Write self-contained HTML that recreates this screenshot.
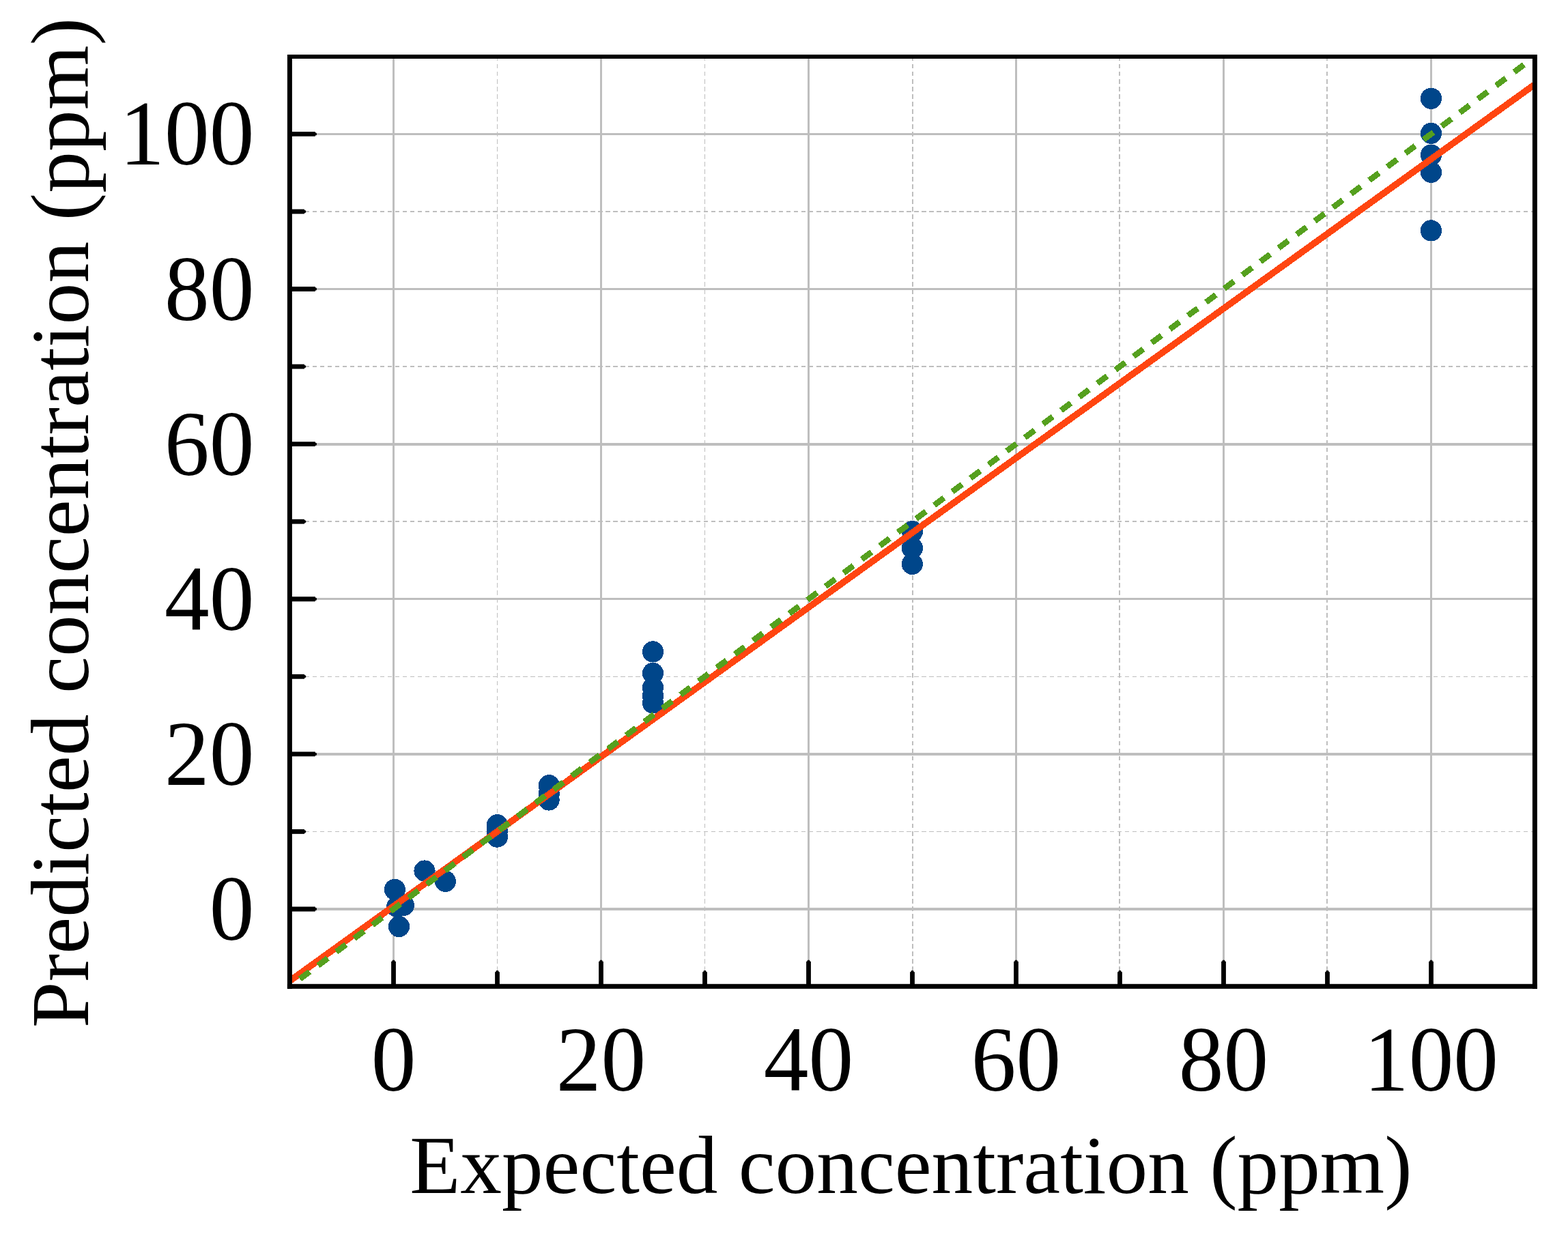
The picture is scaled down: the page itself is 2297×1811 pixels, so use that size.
<!DOCTYPE html>
<html><head><meta charset="utf-8"><title>Calibration plot</title>
<style>html,body{margin:0;padding:0;background:#fff;overflow:hidden}svg{display:block}.t{font-family:"Liberation Serif",serif}</style>
</head><body>
<svg width="2297" height="1811" viewBox="0 0 2297 1811">
<rect x="0" y="0" width="2297" height="1811" fill="#ffffff"/>
<g stroke="#bebebe" stroke-dasharray="6.6 4.42" fill="none" shape-rendering="crispEdges"><line x1="424.50" y1="310.0" x2="2248.50" y2="310.0" stroke-width="2"/><line x1="424.50" y1="537.0" x2="2248.50" y2="537.0" stroke-width="2"/><line x1="424.50" y1="764.0" x2="2248.50" y2="764.0" stroke-width="2"/><line x1="424.50" y1="991.5" x2="2248.50" y2="991.5" stroke-width="1"/><line x1="424.50" y1="1218.5" x2="2248.50" y2="1218.5" stroke-width="1"/><line x1="728.5" y1="82.84" x2="728.5" y2="1445.56" stroke-width="1"/><line x1="1032.5" y1="82.84" x2="1032.5" y2="1445.56" stroke-width="1"/><line x1="1337.0" y1="82.84" x2="1337.0" y2="1445.56" stroke-width="2"/><line x1="1640.0" y1="82.84" x2="1640.0" y2="1445.56" stroke-width="2"/><line x1="1944.0" y1="82.84" x2="1944.0" y2="1445.56" stroke-width="2"/></g>
<g stroke="#bebebe" fill="none" shape-rendering="crispEdges"><line x1="424.50" y1="196.5" x2="2248.50" y2="196.5" stroke-width="3"/><line x1="424.50" y1="423.5" x2="2248.50" y2="423.5" stroke-width="3"/><line x1="424.50" y1="651.0" x2="2248.50" y2="651.0" stroke-width="4"/><line x1="424.50" y1="877.5" x2="2248.50" y2="877.5" stroke-width="3"/><line x1="424.50" y1="1105.0" x2="2248.50" y2="1105.0" stroke-width="4"/><line x1="424.50" y1="1332.0" x2="2248.50" y2="1332.0" stroke-width="4"/><line x1="576.50" y1="82.84" x2="576.50" y2="1445.56" stroke-width="3"/><line x1="880.50" y1="82.84" x2="880.50" y2="1445.56" stroke-width="3"/><line x1="1184.50" y1="82.84" x2="1184.50" y2="1445.56" stroke-width="3"/><line x1="1488.50" y1="82.84" x2="1488.50" y2="1445.56" stroke-width="3"/><line x1="1792.50" y1="82.84" x2="1792.50" y2="1445.56" stroke-width="3"/><line x1="2096.50" y1="82.84" x2="2096.50" y2="1445.56" stroke-width="3"/></g>
<g fill="#00468a" shape-rendering="crispEdges"><circle cx="578.4" cy="1303.4" r="15.6"/><circle cx="581.6" cy="1328.6" r="15.6"/><circle cx="591.3" cy="1326.3" r="15.6"/><circle cx="584.5" cy="1357.6" r="15.6"/><circle cx="622.0" cy="1276.0" r="15.6"/><circle cx="652.4" cy="1291.3" r="15.6"/><circle cx="728.4" cy="1208.8" r="15.6"/><circle cx="728.4" cy="1217.5" r="15.6"/><circle cx="728.4" cy="1226.1" r="15.6"/><circle cx="804.3" cy="1150.8" r="15.6"/><circle cx="804.2" cy="1162.9" r="15.6"/><circle cx="804.1" cy="1172.0" r="15.6"/><circle cx="956.5" cy="954.9" r="15.6"/><circle cx="956.5" cy="986.4" r="15.6"/><circle cx="956.5" cy="1007.4" r="15.6"/><circle cx="956.5" cy="1019.6" r="15.6"/><circle cx="956.5" cy="1030.0" r="15.6"/><circle cx="1336.4" cy="778.8" r="15.6"/><circle cx="1336.4" cy="803.0" r="15.6"/><circle cx="1336.4" cy="826.5" r="15.6"/><circle cx="2096.5" cy="144.3" r="15.6"/><circle cx="2096.5" cy="195.4" r="15.6"/><circle cx="2096.5" cy="227.2" r="15.6"/><circle cx="2096.5" cy="252.4" r="15.6"/><circle cx="2096.4" cy="337.9" r="15.6"/></g>
<clipPath id="ax"><rect x="424.50" y="82.84" width="1824.00" height="1362.72"/></clipPath>
<line clip-path="url(#ax)" x1="409.30" y1="1448.22" x2="2263.70" y2="112.66" stroke="#ff4510" stroke-width="9.6" shape-rendering="crispEdges"/>
<line x1="439.40" y1="1434.43" x2="2236.34" y2="91.92" stroke="#55a01e" stroke-width="8.6" stroke-dasharray="17.8 15.34" shape-rendering="crispEdges"/>
<g stroke="#000" stroke-linecap="square"><line x1="424.4" y1="83.5" x2="424.4" y2="1445.35" stroke-width="7"/><line x1="2248.4" y1="83.5" x2="2248.4" y2="1445.35" stroke-width="7"/><line x1="424.4" y1="1445.35" x2="2248.4" y2="1445.35" stroke-width="7"/><line x1="424.4" y1="83.0" x2="2248.4" y2="83.0" stroke-width="6"/></g>
<g stroke="#000" stroke-width="6.8"><line x1="424.50" y1="1332.00" x2="461.80" y2="1332.00"/><line x1="576.50" y1="1445.56" x2="576.50" y2="1408.76"/><line x1="424.50" y1="1104.88" x2="461.80" y2="1104.88"/><line x1="880.50" y1="1445.56" x2="880.50" y2="1408.76"/><line x1="424.50" y1="877.76" x2="461.80" y2="877.76"/><line x1="1184.50" y1="1445.56" x2="1184.50" y2="1408.76"/><line x1="424.50" y1="650.64" x2="461.80" y2="650.64"/><line x1="1488.50" y1="1445.56" x2="1488.50" y2="1408.76"/><line x1="424.50" y1="423.52" x2="461.80" y2="423.52"/><line x1="1792.50" y1="1445.56" x2="1792.50" y2="1408.76"/><line x1="424.50" y1="196.40" x2="461.80" y2="196.40"/><line x1="2096.50" y1="1445.56" x2="2096.50" y2="1408.76"/><line x1="424.50" y1="1218.44" x2="445.90" y2="1218.44"/><line x1="728.50" y1="1445.56" x2="728.50" y2="1424.16"/><line x1="424.50" y1="991.32" x2="445.90" y2="991.32"/><line x1="1032.50" y1="1445.56" x2="1032.50" y2="1424.16"/><line x1="424.50" y1="764.20" x2="445.90" y2="764.20"/><line x1="1336.50" y1="1445.56" x2="1336.50" y2="1424.16"/><line x1="424.50" y1="537.08" x2="445.90" y2="537.08"/><line x1="1640.50" y1="1445.56" x2="1640.50" y2="1424.16"/><line x1="424.50" y1="309.96" x2="445.90" y2="309.96"/><line x1="1944.50" y1="1445.56" x2="1944.50" y2="1424.16"/></g>
<g stroke="#000" stroke-width="4.4" stroke-linecap="round"><line x1="461.70" y1="1332.00" x2="461.90" y2="1332.00"/><line x1="576.50" y1="1408.86" x2="576.50" y2="1408.66"/><line x1="461.70" y1="1104.88" x2="461.90" y2="1104.88"/><line x1="880.50" y1="1408.86" x2="880.50" y2="1408.66"/><line x1="461.70" y1="877.76" x2="461.90" y2="877.76"/><line x1="1184.50" y1="1408.86" x2="1184.50" y2="1408.66"/><line x1="461.70" y1="650.64" x2="461.90" y2="650.64"/><line x1="1488.50" y1="1408.86" x2="1488.50" y2="1408.66"/><line x1="461.70" y1="423.52" x2="461.90" y2="423.52"/><line x1="1792.50" y1="1408.86" x2="1792.50" y2="1408.66"/><line x1="461.70" y1="196.40" x2="461.90" y2="196.40"/><line x1="2096.50" y1="1408.86" x2="2096.50" y2="1408.66"/><line x1="445.80" y1="1218.44" x2="446.00" y2="1218.44"/><line x1="728.50" y1="1424.26" x2="728.50" y2="1424.06"/><line x1="445.80" y1="991.32" x2="446.00" y2="991.32"/><line x1="1032.50" y1="1424.26" x2="1032.50" y2="1424.06"/><line x1="445.80" y1="764.20" x2="446.00" y2="764.20"/><line x1="1336.50" y1="1424.26" x2="1336.50" y2="1424.06"/><line x1="445.80" y1="537.08" x2="446.00" y2="537.08"/><line x1="1640.50" y1="1424.26" x2="1640.50" y2="1424.06"/><line x1="445.80" y1="309.96" x2="446.00" y2="309.96"/><line x1="1944.50" y1="1424.26" x2="1944.50" y2="1424.06"/></g>
<g class="t" font-size="135.5" fill="#000"><text transform="translate(372.4 1377.00) scale(0.97 1)" text-anchor="end">0</text><text transform="translate(576.50 1597.7) scale(0.97 1)" text-anchor="middle">0</text><text transform="translate(372.4 1149.88) scale(0.97 1)" text-anchor="end">20</text><text transform="translate(880.50 1597.7) scale(0.97 1)" text-anchor="middle">20</text><text transform="translate(372.4 922.76) scale(0.97 1)" text-anchor="end">40</text><text transform="translate(1184.50 1597.7) scale(0.97 1)" text-anchor="middle">40</text><text transform="translate(372.4 695.64) scale(0.97 1)" text-anchor="end">60</text><text transform="translate(1488.50 1597.7) scale(0.97 1)" text-anchor="middle">60</text><text transform="translate(372.4 468.52) scale(0.97 1)" text-anchor="end">80</text><text transform="translate(1792.50 1597.7) scale(0.97 1)" text-anchor="middle">80</text><text transform="translate(372.4 241.40) scale(0.97 1)" text-anchor="end">100</text><text transform="translate(2096.50 1597.7) scale(0.97 1)" text-anchor="middle">100</text></g>
<text x="600.2" y="1748" class="t" font-size="121.3" fill="#000">Expected concentration (ppm)</text>
<text transform="translate(129.2 1505.9) rotate(-90)" x="0" y="0" class="t" font-size="121.7" fill="#000">Predicted concentration (ppm)</text>
</svg>
</body></html>
